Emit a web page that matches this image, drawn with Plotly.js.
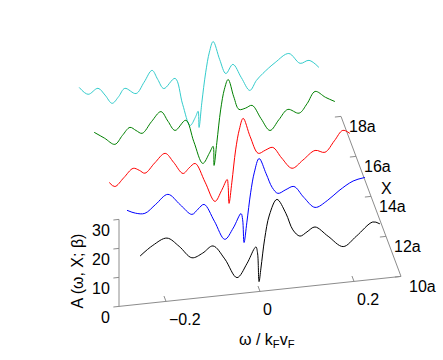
<!DOCTYPE html>
<html>
<head>
<meta charset="utf-8">
<script src="https://cdn.plot.ly/plotly-3.0.1.min.js"></script>
<style>html,body{margin:0;padding:0;background:#fff;}#chart{width:443px;height:360px;}</style>
</head>
<body>
<div id="chart"></div>
<script>
// Depth positions (X, in units of a) of each curve
const xPositions = [10, 12, 14, 16, 18];
const seriesColors = ['#000000', '#0000ff', '#ff0000', '#008000', '#33cccc'];

// omega / kF vF and A(omega, X; beta)
const omega10 = [-0.255,-0.228,-0.198,-0.172,-0.145,-0.122,-0.100,-0.075,-0.049,-0.028,-0.012,-0.0085,-0.005,-0.002,0.002,0.010,0.020,0.036,0.055,0.070,0.085,0.100,0.117,0.145,0.177,0.205,0.240,0.255];
const amp10   = [16.6,19.8,21.8,18.5,14.1,15.3,17.4,12.5,5.6,10.0,15.0,15.5,13.0,3.4,8.0,18.0,26.0,31.1,26.0,20.0,17.6,18.8,20.2,16.5,12.4,15.5,19.8,18.9];

const omega12 = [-0.251,-0.233,-0.213,-0.190,-0.164,-0.138,-0.113,-0.100,-0.087,-0.065,-0.043,-0.025,-0.0085,-0.005,-0.002,0.004,0.012,0.020,0.030,0.045,0.058,0.070,0.087,0.104,0.125,0.149,0.175,0.200,0.230,0.255];
const amp12   = [18.5,17.2,16.8,19.5,22.5,18.5,14.7,16.3,17.7,11.5,4.9,8.5,13.2,11.0,3.1,10.0,20.0,27.0,31.5,26.0,21.0,18.8,19.8,20.6,16.5,12.6,14.5,17.5,20.3,21.1];

const omega14 = [-0.257,-0.245,-0.226,-0.206,-0.193,-0.181,-0.160,-0.138,-0.120,-0.100,-0.087,-0.074,-0.053,-0.032,-0.018,-0.006,-0.004,-0.002,0.004,0.012,0.020,0.028,0.043,0.060,0.075,0.091,0.110,0.132,0.155,0.181,0.202,0.222,0.240,0.255];
const amp14   = [14.4,12.8,15.5,18.4,17.5,16.3,19.5,22.4,19.0,14.8,16.5,17.8,11.0,4.0,7.5,11.1,9.0,2.8,10.0,21.0,28.0,31.6,25.0,19.0,19.8,20.5,16.5,12.6,15.0,17.9,16.9,20.5,23.8,22.5];

const omega16 = [-0.257,-0.235,-0.213,-0.197,-0.181,-0.168,-0.155,-0.135,-0.115,-0.100,-0.085,-0.062,-0.045,-0.026,-0.012,-0.004,-0.002,0.004,0.012,0.020,0.028,0.040,0.051,0.065,0.079,0.098,0.117,0.136,0.155,0.179,0.196,0.213,0.235,0.255];
const amp16   = [17.9,15.5,13.0,15.8,18.3,17.0,15.8,19.5,22.6,19.0,15.6,18.7,11.0,3.2,6.5,8.7,2.1,10.0,21.0,28.0,31.2,25.0,20.5,20.7,21.4,16.5,12.1,15.5,18.7,17.0,20.0,23.9,21.5,19.7];

const omega18 = [-0.257,-0.238,-0.217,-0.202,-0.187,-0.173,-0.160,-0.136,-0.119,-0.102,-0.090,-0.077,-0.053,-0.037,-0.021,-0.010,-0.004,-0.002,0.004,0.012,0.020,0.028,0.042,0.055,0.070,0.088,0.106,0.120,0.134,0.160,0.189,0.213,0.232,0.253];
const amp18   = [19.6,16.9,18.6,16.0,12.9,15.0,17.6,15.4,19.0,22.8,19.5,16.1,19.2,10.0,2.4,5.0,7.0,1.4,10.0,20.0,27.0,30.5,24.0,19.0,21.9,17.0,12.3,15.5,17.7,21.0,23.6,19.8,20.5,17.7];

// Axis ranges and tick labels
const omegaRange = [-0.3, 0.3];
const xRange = [10, 18];
const ampRange = [0, 30];
const omegaTicks = [-0.2, 0, 0.2];
const omegaTickText = ['\u22120.2', '0', '0.2'];
const xTicks = [10, 12, 14, 16, 18];
const xTickText = ['10a', '12a', '14a', '16a', '18a'];
const ampTicks = [0, 10, 20, 30];
const ampTickText = ['0', '10', '20', '30'];

// ---- oblique 3-D projection (view of the original box) ----
const view = {ox: 260, oy: 68.6, wx: 470, wy: 50, dx: -7.5, dy: 20, hz: 2.9};
function proj(w, X, A) {
  return [view.ox + view.wx * w + view.dx * (X - xRange[0]),
          view.oy + view.wy * w + view.dy * (X - xRange[0]) + view.hz * (A - ampRange[0])];
}
function projSeries(ws, X, As) {
  const u = [], v = [];
  ws.forEach((w, k) => { const p = proj(w, X, As[k]); u.push(p[0]); v.push(p[1]); });
  return {u, v};
}

const omegas = [omega10, omega12, omega14, omega16, omega18];
const amps = [amp10, amp12, amp14, amp16, amp18];

const traces = [];
const axisColor = '#8c8c8c';

// axis lines and ticks (built from the axis ranges and tick values)
function seg(p, q) { return {type: 'scatter', mode: 'lines', x: [p[0], q[0]], y: [p[1], q[1]],
  line: {color: axisColor, width: 1}, hoverinfo: 'skip', showlegend: false}; }
traces.push(seg(proj(omegaRange[0], xRange[0], 0), proj(omegaRange[1], xRange[0], 0)));
traces.push(seg(proj(omegaRange[1], xRange[0], 0), proj(omegaRange[1], xRange[1], 0)));
traces.push(seg(proj(omegaRange[0], xRange[0], ampRange[0]), proj(omegaRange[0], xRange[0], ampRange[1])));
omegaTicks.forEach(t => traces.push(seg(proj(t, xRange[0], 0), proj(t, xRange[0] + 0.27, 0))));
xTicks.forEach(t => traces.push(seg(proj(omegaRange[1], t, 0), proj(omegaRange[1] - 0.013, t, 0))));
ampTicks.forEach(t => traces.push(seg(proj(omegaRange[0], xRange[0], t), proj(omegaRange[0] - 0.012, xRange[0], t))));

// data curves, back to front
for (let i = xPositions.length - 1; i >= 0; i--) {
  const s = projSeries(omegas[i], xPositions[i], amps[i]);
  traces.push({type: 'scatter', mode: 'lines', x: s.u, y: s.v,
    line: {color: seriesColors[i], width: 1, shape: 'spline', smoothing: 1, simplify: false},
    hoverinfo: 'skip', showlegend: false, name: xTickText[i]});
}

const font = {family: 'Liberation Sans, Arial, sans-serif', size: 16, color: '#000'};
const annotations = [];
omegaTicks.forEach((t, k) => { const p = proj(t, xRange[0], 0);
  annotations.push({x: p[0], y: p[1], text: omegaTickText[k], showarrow: false, xanchor: 'left', yanchor: 'middle', xshift: 1, yshift: -18, font: font}); });
xTicks.forEach((t, k) => { const p = proj(omegaRange[1], t, 0);
  annotations.push({x: p[0], y: p[1], text: xTickText[k], showarrow: false, xanchor: 'left', yanchor: 'middle', xshift: 6, yshift: -10, font: font}); });
ampTicks.forEach((t, k) => { const p = proj(omegaRange[0], xRange[0], t);
  annotations.push({x: p[0], y: p[1], text: ampTickText[k], showarrow: false, xanchor: 'right', yanchor: 'middle', xshift: -7, yshift: -11, font: font}); });
// axis titles
const pw = proj(0.015, xRange[0], 0);
annotations.push({x: pw[0], y: pw[1], text: '\u03c9 / k<sub>F</sub>v<sub>F</sub>', showarrow: false, xanchor: 'center', yanchor: 'middle', yshift: -50, font: font});
const pz = proj(omegaRange[0], xRange[0], 12);
annotations.push({x: pz[0], y: pz[1], text: 'A (\u03c9, X; \u03b2)', textangle: -90, showarrow: false, xanchor: 'center', yanchor: 'middle', xshift: -41, font: font});
const px = proj(omegaRange[1], 14.5, 0);
annotations.push({x: px[0], y: px[1], text: 'X', showarrow: false, xanchor: 'center', yanchor: 'middle', xshift: 19, yshift: -2, font: font});

const layout = {
  width: 443, height: 360,
  margin: {l: 0, r: 0, t: 0, b: 0},
  paper_bgcolor: '#fff', plot_bgcolor: '#fff',
  font: font,
  xaxis: {range: [0, 443], visible: false, fixedrange: true},
  yaxis: {range: [0, 360], visible: false, fixedrange: true},
  annotations: annotations,
  showlegend: false
};

Plotly.newPlot('chart', traces, layout, {displayModeBar: false, staticPlot: true});
</script>
</body>
</html>
